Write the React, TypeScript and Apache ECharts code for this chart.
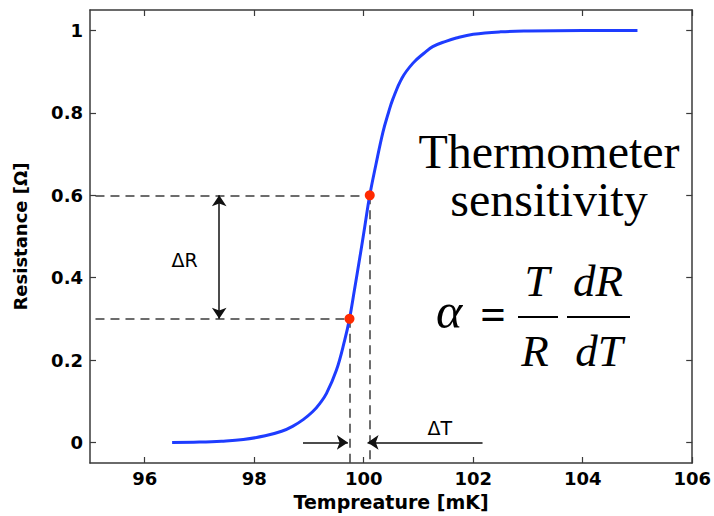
import React, { useEffect, useRef } from "react";
import * as echarts from "echarts";

// Curve
const temperature = [96.5, 97.0, 97.4, 97.8, 98.2, 98.5, 98.7, 98.9, 99.07, 99.2, 99.32, 99.5, 99.65, 99.74, 99.83, 99.93, 100.02, 100.11, 100.22, 100.35, 100.45, 100.53, 100.7, 100.9, 101.1, 101.26, 101.5, 101.69, 102.0, 102.5, 103.0, 104.0, 105.0];
const resistance = [0.0, 0.001, 0.003, 0.007, 0.016, 0.027, 0.039, 0.056, 0.075, 0.095, 0.119, 0.175, 0.247, 0.3, 0.37, 0.45, 0.525, 0.6, 0.673, 0.753, 0.8, 0.833, 0.885, 0.921, 0.945, 0.961, 0.974, 0.982, 0.991, 0.997, 0.999, 1.0, 1.0];

// Marked points
const markedT = [99.74, 100.11];
const markedR = [0.3, 0.6];

// Axis ticks
const xTicks = [96, 98, 100, 102, 104, 106];
const yTicks = [0, 0.2, 0.4, 0.6, 0.8, 1];
const xRange = [95, 106];
const yRange = [-0.05, 1.05];

// Annotations
const deltaRArrowX = 97.36;
const deltaTLeftArrow = [98.89, 99.71];
const deltaTRightArrow = [102.17, 100.07];
const annotationNames = ["ΔR", "ΔT"];
const annotationT = [96.73, 101.39];
const annotationR = [0.444, 0.036];
const dashedStartT = 95.1;

const SERIF = "'Liberation Serif', 'Times New Roman', serif";
const SANS = "'DejaVu Sans', sans-serif";

export default function App() {
  const ref = useRef<HTMLDivElement>(null);
  useEffect(() => {
    if (!ref.current) return;
    const chart = echarts.init(ref.current, null, { renderer: "svg" });
    const curve = temperature.map((t, i) => [t, resistance[i]]);
    const axisLine = { show: true, onZero: false, lineStyle: { color: "#3a3a3a", width: 1.5 } };
    const tickStyle = { show: true, inside: true, length: 6, lineStyle: { color: "#3a3a3a", width: 1.2 } };
    const dashStyle = { color: "#3c3c3c", width: 1.5, type: [9, 6] as any, opacity: 1 };
    const arrowStyle = { color: "#111", width: 1.5, opacity: 1 };

    const dashedLines = [
      { coords: [[dashedStartT, markedR[1]], [markedT[1], markedR[1]]] },
      { coords: [[dashedStartT, markedR[0]], [markedT[0], markedR[0]]] },
      { coords: [[markedT[0], markedR[0]], [markedT[0], yRange[0]]] },
      { coords: [[markedT[1], markedR[1]], [markedT[1], yRange[0]]] },
    ];

    const option: any = {
      animation: false,
      grid: { left: 90, top: 10, right: 21, bottom: 49 },
      xAxis: [
        {
          type: "value",
          position: "bottom",
          min: xRange[0],
          max: xRange[1],
          splitLine: { show: false },
          axisLine,
          axisTick: { ...tickStyle, customValues: xTicks },
          axisLabel: { customValues: xTicks, color: "#000", fontSize: 18, fontWeight: "bold", fontFamily: SANS, margin: 6 },
          name: "Tempreature [mK]",
          nameLocation: "middle",
          nameGap: 29,
          nameTextStyle: { color: "#000", fontSize: 19, fontWeight: "bold", fontFamily: SANS },
        },
        {
          type: "value",
          position: "top",
          min: xRange[0],
          max: xRange[1],
          splitLine: { show: false },
          axisLine,
          axisTick: { ...tickStyle, customValues: xTicks },
          axisLabel: { show: false },
        },
      ],
      yAxis: [
        {
          type: "value",
          position: "left",
          min: yRange[0],
          max: yRange[1],
          splitLine: { show: false },
          axisLine,
          axisTick: { ...tickStyle, customValues: yTicks },
          axisLabel: { customValues: yTicks, color: "#000", fontSize: 18, fontWeight: "bold", fontFamily: SANS, margin: 7 },
          name: "Resistance [Ω]",
          nameLocation: "middle",
          nameGap: 61,
          nameTextStyle: { color: "#000", fontSize: 18, fontWeight: "bold", fontFamily: SANS },
        },
        {
          type: "value",
          position: "right",
          min: yRange[0],
          max: yRange[1],
          splitLine: { show: false },
          axisLine,
          axisTick: { ...tickStyle, customValues: yTicks },
          axisLabel: { show: false },
        },
      ],
      series: [
        {
          type: "lines",
          coordinateSystem: "cartesian2d",
          silent: true,
          symbol: "none",
          lineStyle: dashStyle,
          data: dashedLines,
          z: 1,
        },
        {
          type: "lines",
          coordinateSystem: "cartesian2d",
          silent: true,
          symbol: ["arrow", "arrow"],
          symbolSize: 11,
          lineStyle: arrowStyle,
          itemStyle: { color: "#111", opacity: 1 },
          data: [{ coords: [[deltaRArrowX, markedR[1]], [deltaRArrowX, markedR[0]]] }],
          z: 2,
        },
        {
          type: "lines",
          coordinateSystem: "cartesian2d",
          silent: true,
          symbol: ["none", "arrow"],
          symbolSize: 11,
          lineStyle: arrowStyle,
          itemStyle: { color: "#111", opacity: 1 },
          data: [
            { coords: [[deltaTLeftArrow[0], 0], [deltaTLeftArrow[1], 0]] },
            { coords: [[deltaTRightArrow[0], 0], [deltaTRightArrow[1], 0]] },
          ],
          z: 2,
        },
        {
          type: "line",
          data: curve,
          smooth: 0.4,
          showSymbol: false,
          symbol: "none",
          lineStyle: { color: "#1e3cff", width: 3 },
          z: 3,
        },
        {
          type: "scatter",
          data: markedT.map((t, i) => [t, markedR[i]]),
          symbolSize: 10,
          itemStyle: { color: "#ff2a00", opacity: 1 },
          z: 4,
        },
        {
          type: "scatter",
          silent: true,
          symbolSize: 0,
          itemStyle: { color: "#000", opacity: 1 },
          label: {
            show: true,
            position: "inside",
            formatter: (p: any) => p.name,
            color: "#000",
            fontSize: 19,
            fontFamily: SANS,
          },
          data: annotationNames.map((n, i) => ({ name: n, value: [annotationT[i], annotationR[i]] })),
          z: 4,
        },
      ],
      graphic: [
        {
          type: "text",
          x: 549,
          y: 175,
          style: {
            text: "Thermometer\nsensitivity",
            font: `48px ${SERIF}`,
            lineHeight: 48,
            fill: "#000",
            textAlign: "center",
            textVerticalAlign: "middle",
          },
        },
        {
          type: "text",
          x: 449,
          y: 311,
          style: { text: "α", font: `italic 50px ${SERIF}`, fill: "#000", textAlign: "center", textVerticalAlign: "middle" },
        },
        {
          type: "text",
          x: 493,
          y: 314,
          style: { text: "=", font: `bold 45px ${SERIF}`, fill: "#000", textAlign: "center", textVerticalAlign: "middle" },
        },
        {
          type: "text",
          x: 537,
          y: 281,
          style: { text: "T", font: `italic 45px ${SERIF}`, fill: "#000", textAlign: "center", textVerticalAlign: "middle" },
        },
        {
          type: "text",
          x: 535,
          y: 351,
          style: { text: "R", font: `italic 45px ${SERIF}`, fill: "#000", textAlign: "center", textVerticalAlign: "middle" },
        },
        {
          type: "text",
          x: 598,
          y: 281,
          style: { text: "dR", font: `italic 45px ${SERIF}`, fill: "#000", textAlign: "center", textVerticalAlign: "middle" },
        },
        {
          type: "text",
          x: 599,
          y: 351,
          style: { text: "dT", font: `italic 45px ${SERIF}`, fill: "#000", textAlign: "center", textVerticalAlign: "middle" },
        },
        {
          type: "line",
          shape: { x1: 518, y1: 317, x2: 558, y2: 317 },
          style: { stroke: "#000", lineWidth: 2 },
        },
        {
          type: "line",
          shape: { x1: 567, y1: 317, x2: 630, y2: 317 },
          style: { stroke: "#000", lineWidth: 2 },
        },
      ],
    };
    chart.setOption(option);
    return () => chart.dispose();
  }, []);
  return (
    <div
      ref={ref}
      style={{ position: "fixed", left: 0, top: 0, width: 714, height: 516, background: "#fff" }}
    />
  );
}
